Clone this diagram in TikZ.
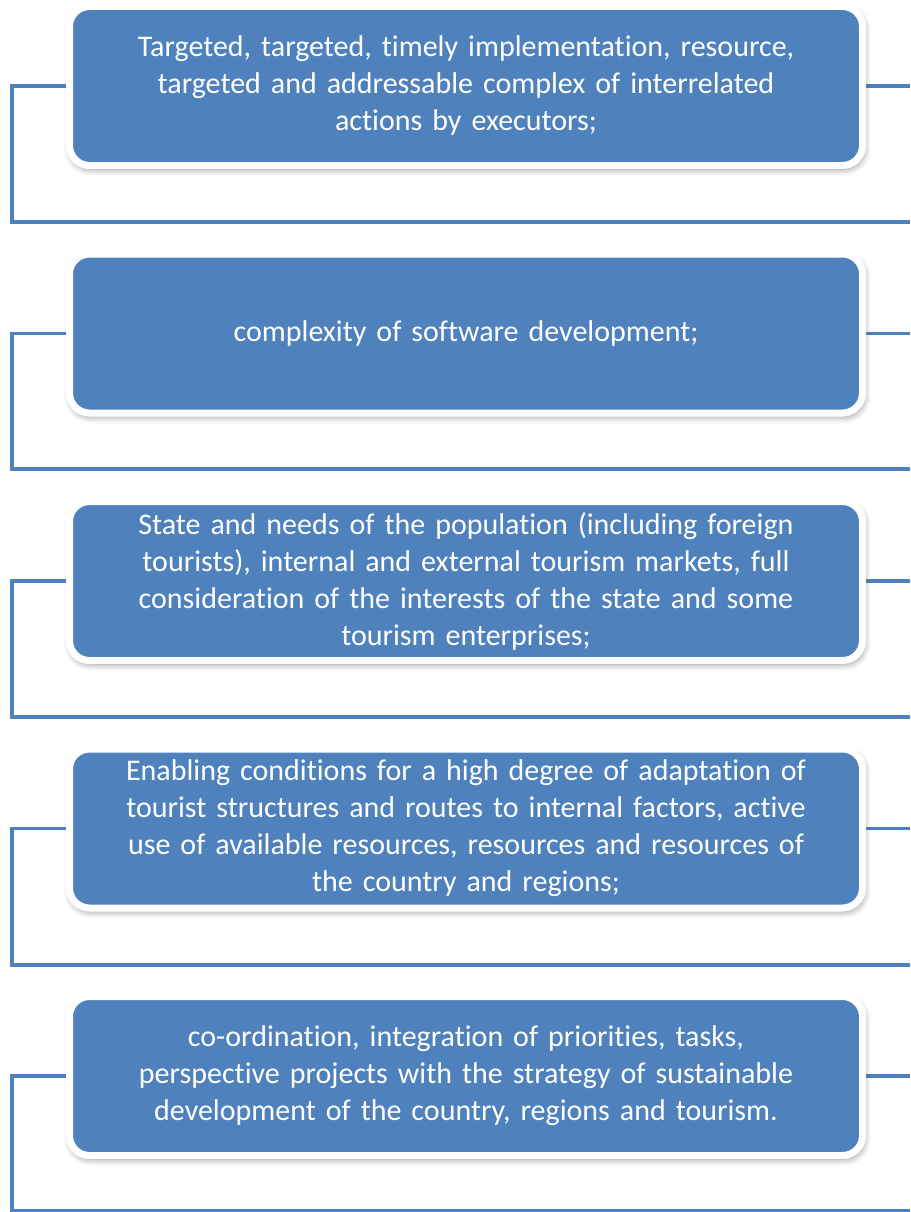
\documentclass[tikz,border=0pt]{standalone}
\usepackage{fontspec}
\setmainfont{Carlito}[RawFeature={-liga,-clig,-calt,-dlig}]
\usetikzlibrary{shadows.blur,backgrounds}
\definecolor{boxblue}{HTML}{4F81BD}

\begin{document}
\begin{tikzpicture}[x=1pt,y=-1pt]
			\tikzstyle{boxB} = [draw=white, line width=7pt, fill=boxblue, rounded corners=20pt,
				minimum width=793pt, minimum height=159pt, text width=770pt, align=center,
				text=white, font=\fontsize{30}{37}\selectfont,
				blur shadow={shadow xshift=1.5pt, shadow yshift=-3.5pt, shadow blur radius=7pt, shadow blur steps=8, shadow opacity=45}]
			\tikzstyle{link} = [draw=boxblue, line width=3.5pt]

			\useasboundingbox (0,0) rectangle (910,1212);

			\tikzset{node distance = 247.5pt}
			\node(Targeted)[boxB] at (466,86) {Targeted, targeted, timely implementation, resource,\\ targeted and addressable complex of interrelated\\ actions by executors;};
			\node(Complexity)[boxB,below of = Targeted]{complexity of software development;};
			\node(Needs)[boxB,below of = Complexity]{State and needs of the population (including foreign\\ tourists), internal and external tourism markets, full\\ consideration of the interests of the state and some\\ tourism enterprises;};
			\node(Enabling)[boxB,below of = Needs]{Enabling conditions for a high degree of adaptation of\\ tourist structures and routes to internal factors, active\\ use of available resources, resources and resources of\\ the country and regions;};
			\node(Coordination)[boxB,below of = Enabling]{co-ordination, integration of priorities, tasks,\\ perspective projects with the strategy of sustainable\\ development of the country, regions and tourism.};

			\begin{scope}[on background layer]
			\foreach \b/\yb in {Targeted/222,Complexity/469,Needs/717,Enabling/965,Coordination/1211} {
				\coordinate(left\b) at (12,\yb);
				\coordinate(right\b) at (910,\yb);
				\draw[link] (\b.west) -| (left\b) -- (right\b);
				\draw[link] (\b.east) -- (\b.east -| right\b);
			}
			\end{scope}

		\end{tikzpicture}
\end{document}
